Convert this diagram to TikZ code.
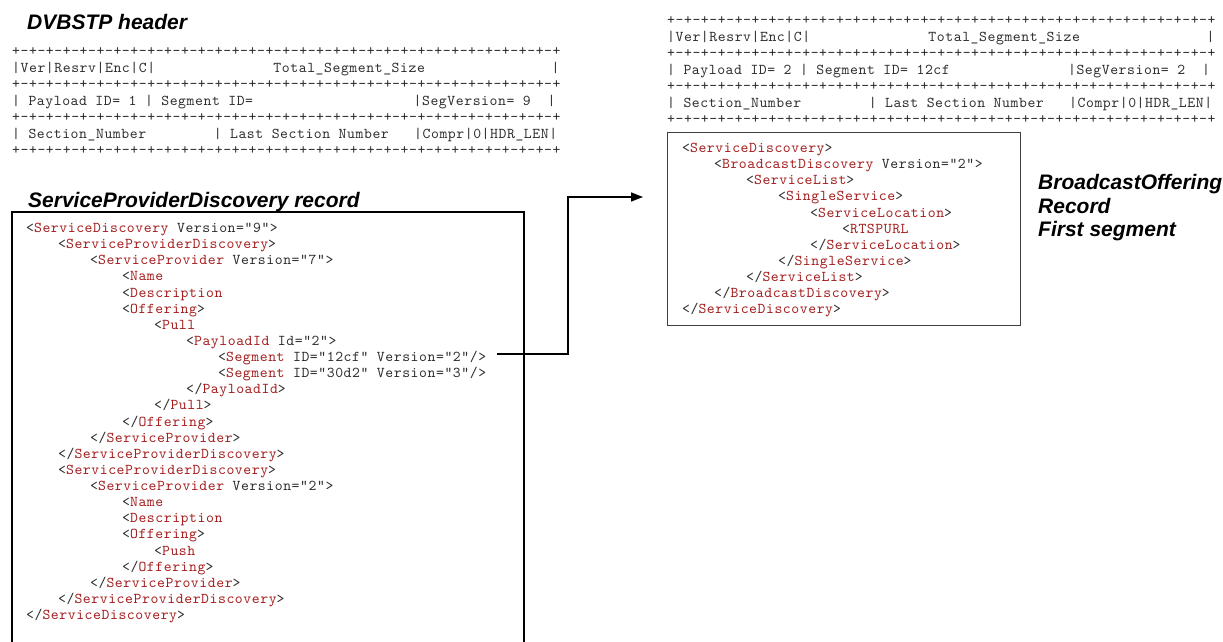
\documentclass[tikz,border=0pt]{standalone}
\usepackage{fontspec}
\usetikzlibrary{arrows.meta}
\newfontfamily\mono{lmmono10-regular.otf}[LetterSpace=3.8]
\newfontfamily\hsans{Liberation Sans}
\definecolor{tagred}{RGB}{165,30,30}
\definecolor{txtgray}{RGB}{45,45,45}
\newcommand\tg[1]{\textcolor{tagred}{#1}}
\newcommand\spc[1]{\hspace*{#1\dimexpr0.5633em\relax}}
\newcommand\brd{+-+-+-+-+-+-+-+-+-+-+-+-+-+-+-+-+-+-+-+-+-+-+-+-+-+-+-+-+-+-+-+-+}
\begin{document}
\begin{tikzpicture}[x=1pt,y=-1pt,
  heading/.style={anchor=base west,inner sep=0pt,font=\hsans\bfseries\itshape\fontsize{21}{24}\selectfont},
  hdr/.style={anchor=base west,inner sep=0pt,text=txtgray,font=\mono\fontsize{15}{16}\selectfont\frenchspacing},
  xml/.style={anchor=base west,inner sep=0pt,text=txtgray,font=\mono\fontsize{15}{16}\selectfont\frenchspacing},
  recbox/.style={line width=1.3pt,draw=black},
  recbox2/.style={line width=1pt,draw=black!75},
  link/.style={line width=1.5pt,-{Triangle[length=12pt,width=9pt]}}]
\useasboundingbox (0,0) rectangle (1223,642);

% ---------- headings ----------
\node[heading] (hDVB) at (27,29.5) {DVBSTP header};
\node[heading] (hSPD) at (28,207.5) {ServiceProviderDiscovery record};
\node[heading] (hBO1) at (1038,189.5) {BroadcastOffering};
\node[heading] (hBO2) at (1038,213) {Record};
\node[heading] (hBO3) at (1038,236.5) {First segment};

% ---------- left DVBSTP header ----------
\def\hs{16.4}
\node[hdr] (L1) at (12,56) {\brd};
\node[hdr] (L2) at (12,56+\hs) {|Ver|Resrv|Enc|C|\spc{14}Total\_Segment\_Size\spc{15}|};
\node[hdr] (L3) at (12,56+2*\hs) {\brd};
\node[hdr] (L4) at (12,56+3*\hs) {| Payload ID= 1 | Segment ID=\spc{19}|SegVersion= 9\spc{2}|};
\node[hdr] (L5) at (12,56+4*\hs) {\brd};
\node[hdr] (L6) at (12,56+5*\hs) {| Section\_Number\spc{8}| Last Section Number\spc{3}|Compr|0|HDR\_LEN|};
\node[hdr] (L7) at (12,56+6*\hs) {\brd};

% ---------- right DVBSTP header ----------
\node[hdr] (R1) at (667,25) {\brd};
\node[hdr] (R2) at (667,25+\hs) {|Ver|Resrv|Enc|C|\spc{14}Total\_Segment\_Size\spc{15}|};
\node[hdr] (R3) at (667,25+2*\hs) {\brd};
\node[hdr] (R4) at (667,25+3*\hs) {| Payload ID= 2 | Segment ID= 12cf\spc{14}|SegVersion= 2\spc{2}|};
\node[hdr] (R5) at (667,25+4*\hs) {\brd};
\node[hdr] (R6) at (667,25+5*\hs) {| Section\_Number\spc{8}| Last Section Number\spc{3}|Compr|0|HDR\_LEN|};
\node[hdr] (R7) at (667,25+6*\hs) {\brd};

% ---------- left record box ----------
\draw[recbox] (12,642) -- (12,212) -- (524,212) -- (524,642);
\def\lx{26}\def\ly{232.5}\def\ls{16.13}\def\ind{32}
\node[xml] (x1)  at (\lx+0*\ind,\ly+0*\ls)  {<\tg{ServiceDiscovery} Version="9">};
\node[xml] (x2)  at (\lx+1*\ind,\ly+1*\ls)  {<\tg{ServiceProviderDiscovery}>};
\node[xml] (x3)  at (\lx+2*\ind,\ly+2*\ls)  {<\tg{ServiceProvider} Version="7">};
\node[xml] (x4)  at (\lx+3*\ind,\ly+3*\ls)  {<\tg{Name}};
\node[xml] (x5)  at (\lx+3*\ind,\ly+4*\ls)  {<\tg{Description}};
\node[xml] (x6)  at (\lx+3*\ind,\ly+5*\ls)  {<\tg{Offering}>};
\node[xml] (x7)  at (\lx+4*\ind,\ly+6*\ls)  {<\tg{Pull}};
\node[xml] (x8)  at (\lx+5*\ind,\ly+7*\ls)  {<\tg{PayloadId} Id="2">};
\node[xml] (seg1) at (\lx+6*\ind,\ly+8*\ls) {<\tg{Segment} ID="12cf" Version="2"/>};
\node[xml] (seg2) at (\lx+6*\ind,\ly+9*\ls) {<\tg{Segment} ID="30d2" Version="3"/>};
\node[xml] (x11) at (\lx+5*\ind,\ly+10*\ls) {</\tg{PayloadId}>};
\node[xml] (x12) at (\lx+4*\ind,\ly+11*\ls) {</\tg{Pull}>};
\node[xml] (x13) at (\lx+3*\ind,\ly+12*\ls) {</\tg{Offering}>};
\node[xml] (x14) at (\lx+2*\ind,\ly+13*\ls) {</\tg{ServiceProvider}>};
\node[xml] (x15) at (\lx+1*\ind,\ly+14*\ls) {</\tg{ServiceProviderDiscovery}>};
\node[xml] (x16) at (\lx+1*\ind,\ly+15*\ls) {<\tg{ServiceProviderDiscovery}>};
\node[xml] (x17) at (\lx+2*\ind,\ly+16*\ls) {<\tg{ServiceProvider} Version="2">};
\node[xml] (x18) at (\lx+3*\ind,\ly+17*\ls) {<\tg{Name}};
\node[xml] (x19) at (\lx+3*\ind,\ly+18*\ls) {<\tg{Description}};
\node[xml] (x20) at (\lx+3*\ind,\ly+19*\ls) {<\tg{Offering}>};
\node[xml] (x21) at (\lx+4*\ind,\ly+20*\ls) {<\tg{Push}};
\node[xml] (x22) at (\lx+3*\ind,\ly+21*\ls) {</\tg{Offering}>};
\node[xml] (x23) at (\lx+2*\ind,\ly+22*\ls) {</\tg{ServiceProvider}>};
\node[xml] (x24) at (\lx+1*\ind,\ly+23*\ls) {</\tg{ServiceProviderDiscovery}>};
\node[xml] (x25) at (\lx+0*\ind,\ly+24*\ls) {</\tg{ServiceDiscovery}>};

% ---------- right record box ----------
\draw[recbox2] (667,132) rectangle (1020,325);
\def\rx{682}\def\ry{152.5}
\node[xml] (r1)  at (\rx+0*\ind,\ry+0*\ls)  {<\tg{ServiceDiscovery}>};
\node[xml] (r2)  at (\rx+1*\ind,\ry+1*\ls)  {<\tg{BroadcastDiscovery} Version="2">};
\node[xml] (r3)  at (\rx+2*\ind,\ry+2*\ls)  {<\tg{ServiceList}>};
\node[xml] (r4)  at (\rx+3*\ind,\ry+3*\ls)  {<\tg{SingleService}>};
\node[xml] (r5)  at (\rx+4*\ind,\ry+4*\ls)  {<\tg{ServiceLocation}>};
\node[xml] (r6)  at (\rx+5*\ind,\ry+5*\ls)  {<\tg{RTSPURL}};
\node[xml] (r7)  at (\rx+4*\ind,\ry+6*\ls)  {</\tg{ServiceLocation}>};
\node[xml] (r8)  at (\rx+3*\ind,\ry+7*\ls)  {</\tg{SingleService}>};
\node[xml] (r9)  at (\rx+2*\ind,\ry+8*\ls)  {</\tg{ServiceList}>};
\node[xml] (r10) at (\rx+1*\ind,\ry+9*\ls)  {</\tg{BroadcastDiscovery}>};
\node[xml] (r11) at (\rx+0*\ind,\ry+10*\ls) {</\tg{ServiceDiscovery}>};

% ---------- connector ----------
\coordinate (arrStart) at (497,354);
\coordinate (bend) at (568,197);
\coordinate (arrEnd) at (643,197);
\draw[link] (arrStart) -| (bend) -- (arrEnd);
\end{tikzpicture}
\end{document}
